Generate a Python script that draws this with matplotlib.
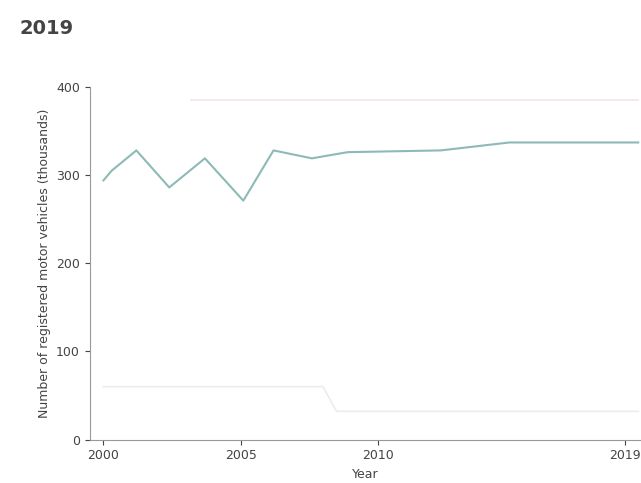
import matplotlib
matplotlib.use("Agg")
import matplotlib.pyplot as plt

# main series
years = [2000.0, 2000.3, 2001.2, 2002.4, 2003.7, 2005.1, 2006.2, 2007.6, 2008.9, 2012.3, 2014.8, 2019.5]
values = [294, 305, 328, 286, 319, 271, 328, 319, 326, 328, 337, 337]

# faint background series
ref_years = [2003.2, 2019.5]
ref_values = [385, 385]
low_years = [2000.0, 2008.0, 2008.5, 2019.5]
low_values = [60, 60, 32, 32]

x_ticks = [2000, 2005, 2010, 2019]
y_ticks = [0, 100, 200, 300, 400]

fig = plt.figure(figsize=(6.41, 4.83), dpi=100)
ax = fig.add_axes([0.14, 0.09, 0.86, 0.73])

ax.plot(ref_years, ref_values, color="#f6e3e3", lw=1.2)
ax.plot(low_years, low_values, color="#ececec", lw=1.2)
ax.plot(years, values, color="#8dbab6", lw=1.5)

ax.set_xlim(1999.5, 2019.6)
ax.set_ylim(0, 400)
ax.set_xticks(x_ticks)
ax.set_yticks(y_ticks)
ax.tick_params(labelsize=9, colors="#444444")

for side in ("top", "right"):
    ax.spines[side].set_visible(False)
for side in ("left", "bottom"):
    ax.spines[side].set_color("#999999")

ax.set_xlabel("Year", fontsize=9, color="#444444")
ax.set_ylabel("Number of registered motor vehicles (thousands)", fontsize=9, color="#444444")
fig.text(0.03, 0.93, "2019", fontsize=14, fontweight="bold", color="#444444")

fig.savefig("out.png", dpi=100)
